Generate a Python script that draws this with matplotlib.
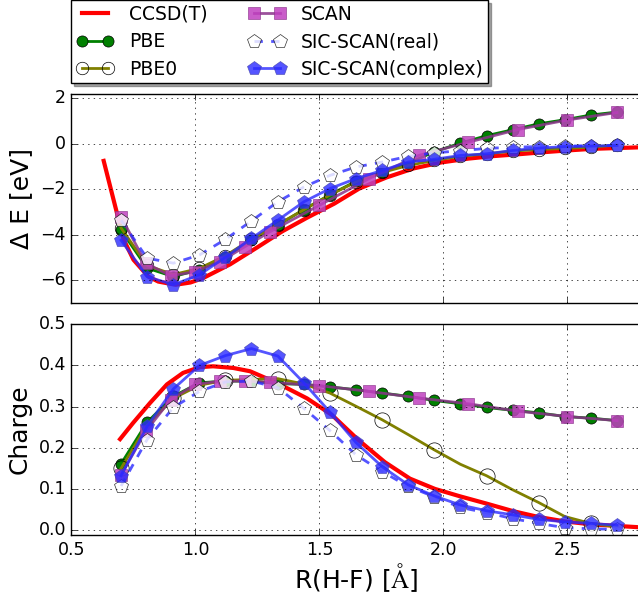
import matplotlib
matplotlib.use("Agg")
import matplotlib.pyplot as plt
import numpy as np

plt.style.use("classic")

# ---------------------- Data ----------------------
# common grid for PBE, PBE0 and both SIC-SCAN runs
r_grid = [0.700, 0.805, 0.911, 1.016, 1.121, 1.226, 1.332, 1.437, 1.542, 1.647,
          1.753, 1.858, 1.963, 2.068, 2.174, 2.279, 2.384, 2.489, 2.595, 2.700]
r_scan = [0.7, 0.8, 0.9, 1.0, 1.1, 1.2, 1.3, 1.5, 1.7, 1.9, 2.1, 2.3, 2.5, 2.7]

# binding energy [eV]
r_cc_e = [0.63, 0.68, 0.71, 0.75, 0.81, 0.85, 0.92, 0.98, 1.03, 1.14, 1.25, 1.35,
          1.45, 1.56, 1.66, 1.77, 1.88, 1.99, 2.1, 2.2, 2.3, 2.4, 2.5, 2.6, 2.8]
e_ccsdt = [-0.75, -2.9, -4.2, -5.1, -5.84, -6.06, -6.2, -6.1, -5.91, -5.3, -4.55,
           -3.85, -3.25, -2.63, -1.97, -1.48, -1.08, -0.82, -0.65, -0.54, -0.46,
           -0.37, -0.29, -0.22, -0.15]
e_pbe = [-3.8, -5.47, -5.84, -5.54, -4.96, -4.23, -3.58, -2.89, -2.24, -1.65,
         -1.24, -0.85, -0.35, 0.03, 0.36, 0.62, 0.88, 1.06, 1.27, 1.4]
e_pbe0 = [-3.7, -5.35, -5.75, -5.48, -4.92, -4.2, -3.55, -2.9, -2.25, -1.68,
          -1.26, -0.95, -0.73, -0.55, -0.44, -0.32, -0.25, -0.2, -0.15, -0.05]
e_scan = [-3.21, -5.25, -5.81, -5.62, -5.18, -4.52, -3.87, -2.7, -1.53, -0.51,
          0.07, 0.63, 1.05, 1.38]
e_sic_real = [-3.36, -5.03, -5.25, -4.89, -4.2, -3.39, -2.55, -1.9, -1.39, -1.02,
              -0.8, -0.55, -0.4, -0.3, -0.2, -0.15, -0.12, -0.1, -0.08, -0.07]
e_sic_cplx = [-4.24, -5.84, -6.2, -5.76, -4.99, -4.16, -3.36, -2.55, -1.97, -1.53,
              -1.17, -0.8, -0.68, -0.51, -0.44, -0.29, -0.19, -0.12, -0.1, -0.07]

# charge
r_cc_q = [0.696, 0.748, 0.817, 0.885, 0.95, 1.018, 1.071, 1.152, 1.22, 1.289,
          1.353, 1.45, 1.55, 1.655, 1.764, 1.865, 1.966, 2.067, 2.176, 2.281,
          2.382, 2.49, 2.595, 2.785]
q_ccsdt = [0.221, 0.26, 0.309, 0.354, 0.382, 0.396, 0.398, 0.394, 0.386, 0.368,
           0.35, 0.32, 0.28, 0.22, 0.165, 0.125, 0.1, 0.082, 0.064, 0.046,
           0.032, 0.021, 0.014, 0.007]
q_pbe = [0.161, 0.262, 0.325, 0.358, 0.362, 0.362, 0.356, 0.354, 0.348, 0.341,
         0.333, 0.325, 0.315, 0.307, 0.298, 0.291, 0.285, 0.276, 0.272, 0.266]
q_pbe0 = [0.15, 0.255, 0.32, 0.352, 0.364, 0.366, 0.368, 0.355, 0.333, 0.301,
          0.268, 0.232, 0.195, 0.16, 0.132, 0.098, 0.067, 0.033, 0.016, 0.008]
q_scan = [0.134, 0.24, 0.317, 0.354, 0.362, 0.362, 0.359, 0.351, 0.337, 0.321,
          0.307, 0.289, 0.276, 0.266]
q_sic_real = [0.107, 0.22, 0.298, 0.337, 0.36, 0.362, 0.346, 0.296, 0.242, 0.183,
              0.142, 0.106, 0.081, 0.055, 0.042, 0.028, 0.016, 0.006, 0.003, 0.002]
q_sic_cplx = [0.132, 0.252, 0.343, 0.4, 0.424, 0.441, 0.423, 0.358, 0.287, 0.213,
              0.154, 0.11, 0.083, 0.061, 0.047, 0.037, 0.026, 0.02, 0.016, 0.012]

# --------------------------- Styles -----------------------------------
scan_face = "#c040c0"
scan_line = "#8a338a"
blue = "#2a2aff"

fig = plt.figure(figsize=(6.38, 5.94), dpi=100, facecolor="white")
ax1 = fig.add_axes([0.112, 0.490, 0.894, 0.352])
ax2 = fig.add_axes([0.112, 0.0993, 0.894, 0.3547], sharex=ax1)


def draw(ax, r_cc, cc, pbe, pbe0, scan, real, cplx, pbe0_every, pbe0_ms):
    ax.plot(r_cc, cc, "-", color="r", lw=3, label="CCSD(T)")
    ax.plot(r_grid, pbe, "o-", color="g", mfc="g", mec="k", ms=8, lw=2,
            label="PBE")
    ax.plot(r_grid, pbe0, "o-", color="olive", mfc="none", mec="k", ms=pbe0_ms,
            lw=2, markevery=pbe0_every, label="PBE0")
    ax.plot(r_scan, scan, "s-", color=scan_line, mfc=scan_face, mec=scan_line,
            ms=9, lw=2, alpha=0.85, label="SCAN")
    ax.plot(r_grid, real, "p--", color=blue, mfc="white", mec="k", ms=10, lw=2,
            alpha=0.8, label="SIC-SCAN(real)")
    ax.plot(r_grid, cplx, "p-", color=blue, mfc=blue, mec="#4444aa", ms=10, lw=2,
            alpha=0.8, label="SIC-SCAN(complex)")
    ax.grid(True)
    ax.tick_params(labelsize=12.5)


draw(ax1, r_cc_e, e_ccsdt, e_pbe, e_pbe0, e_scan, e_sic_real, e_sic_cplx, 1, 9)
draw(ax2, r_cc_q, q_ccsdt, q_pbe, q_pbe0, q_scan, q_sic_real, q_sic_cplx, 2, 11)

ax1.set_xlim(0.5, 2.8)
ax1.set_ylim(-7, 2.2)
ax1.set_yticks([-6, -4, -2, 0, 2])
ax1.set_ylabel("Δ E [eV]", fontsize=18)
plt.setp(ax1.get_xticklabels(), visible=False)

ax2.set_ylim(-0.012, 0.5)
ax2.set_yticks([0.0, 0.1, 0.2, 0.3, 0.4, 0.5])
ax2.set_xticks([0.5, 1.0, 1.5, 2.0, 2.5])
ax2.set_ylabel("Charge", fontsize=18)
ax2.set_xlabel(r"R(H-F) [$\mathrm{\AA}$]", fontsize=18, labelpad=2)

ax1.legend(loc="lower left", bbox_to_anchor=(0.0, 1.05), borderaxespad=0,
           ncol=2, numpoints=2, fontsize=13.5, shadow=True, fancybox=False,
           handlelength=2.0, columnspacing=2.2, borderpad=0.25,
           labelspacing=0.45)

fig.savefig("out.png", dpi=100, facecolor="white")
